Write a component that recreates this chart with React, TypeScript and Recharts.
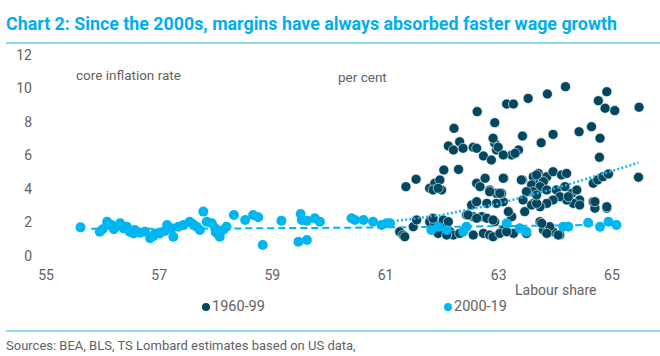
import React from 'react';
import { ScatterChart, Scatter, XAxis, YAxis } from 'recharts';

// labour share (x) vs core inflation rate (y)
const xTicks = [55, 57, 59, 61, 63, 65];
const yTicks = [0, 2, 4, 6, 8, 10, 12];

const series6099: [number, number][] = [
  [61.36, 4.14], [61.54, 4.58], [61.78, 4.04], [61.87, 4.34], [61.96, 4.54], [61.99, 3.94], [62.03, 5.13],
  [62.11, 6.57], [62.2, 6.33], [62.31, 6.82], [62.37, 6.43], [62.55, 6.49], [62.61, 6.43], [62.21, 7.62],
  [62.29, 5.17], [62.62, 8.62], [62.61, 4.34], [62.67, 4.14], [62.76, 4.64], [62.84, 3.94], [62.96, 3.74],
  [62.73, 5.97], [62.87, 5.73], [62.96, 6.33], [62.93, 6.73], [62.9, 7.03], [62.99, 6.49], [62.93, 7.96],
  [63.09, 4.64], [63.14, 9.07], [63.26, 9.07], [63.23, 6.03], [63.35, 6.33], [63.42, 7.16], [63.42, 4.54],
  [63.52, 9.41], [63.61, 4.73], [63.7, 4.93], [63.72, 4.34], [63.79, 4.54], [63.85, 4.73], [63.75, 6.76],
  [63.86, 9.67], [63.96, 7.26], [63.96, 5.03], [64.11, 4.84], [64.2, 4.93], [64.18, 10.11], [64.42, 7.42],
  [64.64, 7.72], [64.79, 7.03], [64.76, 9.27], [64.88, 8.82], [64.91, 9.81], [65.05, 8.68], [64.78, 5.89],
  [64.67, 4.34], [64.75, 4.54], [64.84, 4.73], [64.94, 4.9], [65.48, 8.88], [65.47, 4.7],
  [63.08, 6.03], [63.29, 6.13], [63.08, 4.64], [63.4, 4.54], [63.67, 4.84], [63.79, 4.44], [63.58, 4.24],
  [63.73, 4.14], [63.85, 3.94], [63.61, 3.84], [63.49, 3.84], [64.02, 3.94], [64.17, 4.14], [64.29, 3.74],
  [64.38, 3.94], [64.43, 3.34], [64.32, 3.14], [64.2, 3.34], [64.08, 3.54], [63.96, 3.34], [63.85, 3.14],
  [63.73, 2.94], [63.61, 3.14], [63.46, 2.65], [63.08, 3.24], [63.05, 3.74], [64.67, 3.24], [64.7, 2.85],
  [64.91, 2.85], [63.23, 2.35], [63.08, 1.55], [63.26, 1.35], [63.49, 1.35], [63.73, 2.05], [63.79, 1.55],
  [63.96, 1.45], [64.08, 1.25], [63.9, 1.75],
  [61.25, 1.45], [61.31, 1.25], [61.49, 1.75], [61.78, 2.05], [61.87, 1.95], [62.02, 2.15], [62.08, 1.75],
  [62.14, 1.45], [62.2, 1.25], [62.31, 1.35], [62.52, 3.04], [62.61, 3.24], [62.79, 3.14], [62.96, 3.14],
  [63.02, 3.74], [62.43, 2.45], [62.55, 2.35], [62.7, 2.35], [62.79, 2.25], [62.93, 2.05], [62.55, 1.25],
  [62.73, 1.35], [62.84, 1.25], [62.9, 1.15], [63.02, 1.35], [63.14, 1.45], [63.58, 3.04], [63.67, 3.14],
  [63.76, 1.95], [63.85, 1.35], [64.05, 1.25], [63.43, 3.34], [63.67, 3.64], [64.23, 3.54], [64.43, 3.04],
  [64.7, 3.24], [64.91, 2.94], [61.34, 1.15], [61.55, 2.15], [61.84, 2.25], [62.11, 2.05], [61.93, 1.35],
  [62.08, 1.25], [61.84, 3.94], [61.93, 4.04], [62.84, 3.84], [63.17, 2.65], [62.46, 2.45], [62.61, 2.25],
  [62.9, 2.15],
];

const series0019: [number, number][] = [
  [55.61, 1.71], [55.95, 1.45], [56.0, 1.6], [56.08, 2.05], [56.16, 1.85], [56.2, 1.6], [56.31, 1.95],
  [56.37, 1.65], [56.43, 1.75], [56.48, 1.45], [56.55, 1.35], [56.57, 1.55], [56.66, 1.39], [56.75, 1.45],
  [56.84, 1.06], [56.9, 1.2], [56.93, 1.35], [57.01, 1.35], [57.1, 1.5], [57.14, 1.85], [57.22, 1.65],
  [57.25, 1.15], [57.34, 1.75], [57.43, 1.85], [57.54, 2.05], [57.6, 1.9], [57.66, 1.75], [57.72, 1.55],
  [57.78, 2.65], [57.84, 2.05], [57.93, 1.95], [57.99, 1.65], [58.0, 1.4], [58.07, 1.15], [58.13, 1.55],
  [58.19, 1.75], [58.32, 2.45], [58.52, 2.15], [58.66, 2.45], [58.75, 2.31], [58.83, 0.66], [59.16, 2.11],
  [59.46, 0.85], [59.5, 2.51], [59.52, 2.15], [59.61, 0.96], [59.61, 2.11], [59.75, 2.25], [59.84, 2.05],
  [60.4, 2.25], [60.46, 2.15], [60.61, 2.15], [60.78, 2.05], [60.93, 1.85], [61.02, 1.95], [61.08, 1.95],
  [61.81, 1.55], [61.93, 1.75], [62.08, 1.55], [62.37, 1.45], [62.43, 1.75], [63.14, 1.95], [63.37, 1.65],
  [63.49, 1.45], [64.14, 1.75], [64.23, 1.75], [64.58, 1.99], [64.79, 1.75], [64.94, 2.05], [65.08, 1.85],
];

// fitted trend curves
const trend6099: [number, number][] = [
  [61.2, 2.1], [62.0, 2.45], [62.43, 2.75], [63.02, 3.14], [63.3, 3.4], [63.9, 3.94], [64.2, 4.24],
  [64.96, 5.03], [65.47, 5.57],
];
const trend0019: [number, number][] = [
  [55.8, 1.62], [58.0, 1.64], [60.0, 1.68], [62.0, 1.74], [64.0, 1.82], [65.1, 1.88],
];

const DARK = '#00475f';
const LIGHT = '#00b6f1';
const GREY = '#626262';

const toPoints = (rows: [number, number][]) => rows.map(([share, inflation]) => ({ share, inflation }));

const darkDot = (p: any) => <circle cx={p.cx} cy={p.cy} r={5} fill={DARK} stroke="#fff" strokeWidth={0.6} />;
const lightDot = (p: any) => <circle cx={p.cx} cy={p.cy} r={5} fill={LIGHT} />;
const noDot = () => <g />;

const text = (left: number, top: number, size: number, content: string) => (
  <div style={{ position: 'absolute', left, top, fontSize: size, lineHeight: 1, color: GREY, whiteSpace: 'nowrap' }}>
    {content}
  </div>
);

export default function App() {
  return (
    <div style={{ position: 'absolute', left: 0, top: 0, width: 660, height: 356, background: '#fff', fontFamily: 'Roboto, sans-serif', overflow: 'hidden' }}>
      <svg width={660} height={50} style={{ position: 'absolute', left: 0, top: 0 }}>
        <text x={6} y={30} fontSize={17.5} fontWeight={700} fill="#00aeef" textLength={611} lengthAdjust="spacingAndGlyphs">
          Chart 2: Since the 2000s, margins have always absorbed faster wage growth
        </text>
        <line x1={6} x2={660} y1={43} y2={43} stroke="#5ccbf3" strokeWidth={1.5} />
      </svg>

      <div style={{ position: 'absolute', left: 0, top: 0 }}>
        <ScatterChart width={660} height={356} margin={{ top: 55, right: 0, bottom: 70, left: 0 }}>
          <XAxis
            type="number"
            dataKey="share"
            domain={[55, 65.85]}
            ticks={xTicks}
            height={30}
            axisLine={false}
            tickLine={false}
            tickMargin={8}
            tick={{ fill: GREY, fontSize: 14 }}
            allowDataOverflow
          />
          <YAxis
            type="number"
            dataKey="inflation"
            domain={[0, 12]}
            ticks={yTicks}
            width={46}
            axisLine={false}
            tickLine={false}
            tickMargin={8}
            tick={{ fill: GREY, fontSize: 14 }}
          />
          <Scatter data={toPoints(trend0019)} shape={noDot} line={{ stroke: LIGHT, strokeWidth: 2, strokeDasharray: '7 4' }} isAnimationActive={false} />
          <Scatter data={toPoints(series6099)} shape={darkDot} isAnimationActive={false} />
          <Scatter data={toPoints(trend6099)} shape={noDot} line={{ stroke: '#1ab4ee', strokeWidth: 2.5, strokeDasharray: '2 2.2' }} isAnimationActive={false} />
          <Scatter data={toPoints(series0019)} shape={lightDot} isAnimationActive={false} />
        </ScatterChart>
      </div>

      {text(76, 69, 13.5, 'core inflation rate')}
      {text(338, 71, 13.5, 'per cent')}
      {text(515, 283, 14, 'Labour share')}

      <div style={{ position: 'absolute', left: 202, top: 300, display: 'flex', alignItems: 'center', fontSize: 14.5, lineHeight: 1, color: GREY }}>
        <span style={{ width: 8, height: 8, borderRadius: 4, background: DARK, marginRight: 2 }} />1960-99
      </div>
      <div style={{ position: 'absolute', left: 444, top: 300, display: 'flex', alignItems: 'center', fontSize: 14.5, lineHeight: 1, color: GREY }}>
        <span style={{ width: 8, height: 8, borderRadius: 4, background: LIGHT, marginRight: 2 }} />2000-19
      </div>

      <div style={{ position: 'absolute', left: 6, top: 330, width: 654, height: 0, borderTop: '2px solid #8fd9f5' }} />
      {text(6, 339, 13, 'Sources: BEA, BLS, TS Lombard estimates based on US data,')}
    </div>
  );
}
